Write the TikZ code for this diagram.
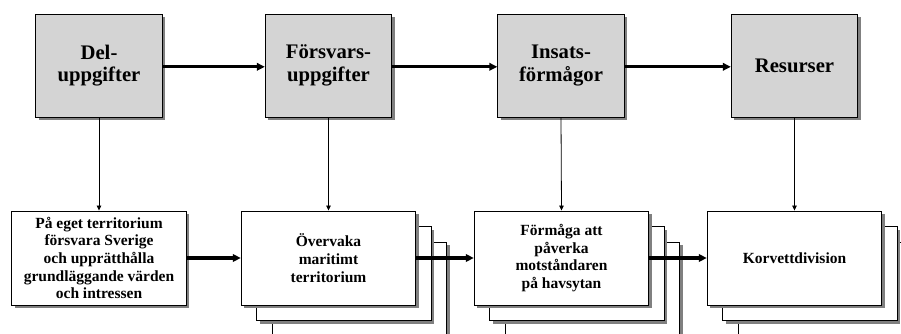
\documentclass[tikz,border=0pt]{standalone}
\usepackage{fontspec}
\setmainfont{Liberation Serif}
\usetikzlibrary{arrows.meta,shadows}
\definecolor{boxgray}{HTML}{D4D4D4}
\definecolor{shadowgray}{HTML}{808080}
\begin{document}
\begin{tikzpicture}[x=1pt,y=-1pt,
  box/.style={draw=black, line width=0.9pt,
    general shadow={fill=shadowgray, shadow xshift=3pt, shadow yshift=-3pt},
    inner sep=0pt, align=center},
  topbox/.style={box, fill=boxgray, minimum width=126.5pt, minimum height=103pt,
    font=\fontsize{20.7}{22.7}\selectfont\bfseries},
  lowbox/.style={box, fill=white, minimum width=174.5pt, minimum height=94pt,
    font=\fontsize{15.5}{17.7}\selectfont\bfseries},
  bigarrow/.style={line width=3.3pt, -{Triangle[length=8pt,width=7.5pt]}},
  smallarrow/.style={line width=0.8pt, -{Triangle[length=5pt,width=4.5pt]}},
]
\useasboundingbox (0,0) rectangle (901,334);
\clip (0,0) rectangle (901,334);

% top row
\node[topbox] (t1) at (99,65.5) {Del-\\uppgifter};
\node[topbox] (t2) at (328.5,65.5) {Försvars-\\uppgifter};
\node[topbox] (t3) at (561,65.5) {Insats-\\förmågor};
\node[topbox] (t4) at (794.5,65.5) {Resurser};

% stacked boxes behind
\node[lowbox] (s2c) at (359.5,289) {};
\node[lowbox] (s2b) at (344,273.5) {};
\node[lowbox] (s3c) at (592.5,289) {};
\node[lowbox] (s3b) at (577,273.5) {};
\node[lowbox] (s4c) at (825.5,289) {};
\node[lowbox] (s4b) at (810,273.5) {};

% bottom row
\node[lowbox] (b1) at (99,258) {På eget territorium\\försvara Sverige\\och upprätthålla\\grundläggande värden\\och intressen};
\node[lowbox] (b2) at (328.5,258) {Övervaka\\maritimt\\territorium};
\node[lowbox] (b3) at (561.5,258) {Förmåga att\\påverka\\motståndaren\\på havsytan};
\node[lowbox] (b4) at (794.5,258) {Korvettdivision};

% connectors
\draw[bigarrow] ([yshift=-1.3pt]t1.east) -- ([yshift=-1.3pt]t2.west);
\draw[bigarrow] ([yshift=-1.3pt]t2.east) -- ([yshift=-1.3pt]t3.west);
\draw[bigarrow] ([yshift=-1.3pt]t3.east) -- ([yshift=-1.3pt]t4.west);

\draw[smallarrow] (t1.south) -- (b1.north);
\draw[smallarrow] (t2.south) -- (b2.north);
\draw[smallarrow] (t3.south) -- (b3.north);
\draw[smallarrow] (t4.south) -- (b4.north);

\draw[bigarrow] (b1.east) -- (b2.west);
\draw[bigarrow] (b2.east) -- (b3.west);
\draw[bigarrow] (b3.east) -- (b4.west);
\end{tikzpicture}
\end{document}
